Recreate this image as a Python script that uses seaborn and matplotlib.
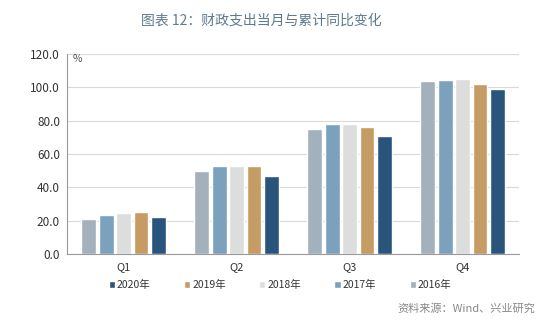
import matplotlib
matplotlib.use("Agg")
import matplotlib.pyplot as plt
import seaborn as sns
import pandas as pd

quarters = ["Q1", "Q2", "Q3", "Q4"]
years = ["2016年", "2017年", "2018年", "2019年", "2020年"]
v2016 = [21.0, 49.5, 75.2, 104.0]
v2017 = [23.5, 53.0, 78.0, 104.4]
v2018 = [24.5, 53.0, 78.0, 105.2]
v2019 = [25.0, 52.5, 76.0, 101.8]
v2020 = [22.0, 47.0, 70.7, 99.0]
colors = ["#A2B1BB", "#7BA1BC", "#DCDEDD", "#C49C64", "#29557D"]
yticks = [0, 20, 40, 60, 80, 100, 120]

rows = []
for y, vals in zip(years, [v2016, v2017, v2018, v2019, v2020]):
    for q, v in zip(quarters, vals):
        rows.append({"quarter": q, "year": y, "value": v})
df = pd.DataFrame(rows)

sns.set_style("white")
plt.rcParams["font.family"] = ["Noto Sans CJK SC", "DejaVu Sans"]

fig = plt.figure(figsize=(5.54, 3.23), dpi=100)
ax = fig.add_axes([0.121, 0.2136, 0.816, 0.6194])

sns.barplot(data=df, x="quarter", y="value", hue="year", hue_order=years,
            palette=colors, order=quarters, width=0.77, gap=0.15,
            saturation=1, ax=ax, legend=True)

ax.set_ylim(0, 120)
ax.set_xlim(-0.5, 3.5)
ax.set_yticks(yticks)
ax.set_yticklabels([f"{t:.1f}" for t in yticks], fontsize=8.5, color="#333333")
ax.yaxis.grid(True, color="#D9D9D9", linewidth=0.8)
ax.set_axisbelow(True)
ax.set_xlabel("")
ax.set_ylabel("")
ax.tick_params(axis="x", which="major", length=0, labelsize=8, colors="#333333", pad=6)
ax.set_xticks([-0.5, 0.5, 1.5, 2.5, 3.5], minor=True)
ax.tick_params(axis="x", which="minor", length=4, color="#888888", direction="out")
ax.tick_params(axis="y", length=3, color="#888888", direction="out", pad=2)
for s in ["top", "right"]:
    ax.spines[s].set_visible(False)
for s in ["left", "bottom"]:
    ax.spines[s].set_color("#999999")
    ax.spines[s].set_linewidth(0.8)

ax.text(0.012, 1.0, "%", transform=ax.transAxes, fontsize=7.5, color="#555555",
        va="top", ha="left")

handles, labels = ax.get_legend_handles_labels()
ax.get_legend().remove()
fig.legend(handles[::-1], labels[::-1], loc="center left", bbox_to_anchor=(0.179, 0.118),
           ncol=5, frameon=False, fontsize=7.5, handlelength=0.6, handleheight=0.6,
           handletextpad=0.2, columnspacing=3.2, labelcolor="#333333")

fig.text(0.471, 0.935, "图表 12：财政支出当月与累计同比变化", ha="center", va="center",
         fontsize=10, color="#5F7A8F")
fig.text(0.966, 0.046, "资料来源：Wind、兴业研究", ha="right", va="center",
         fontsize=8, color="#888888")

fig.savefig("out.png", dpi=100)
